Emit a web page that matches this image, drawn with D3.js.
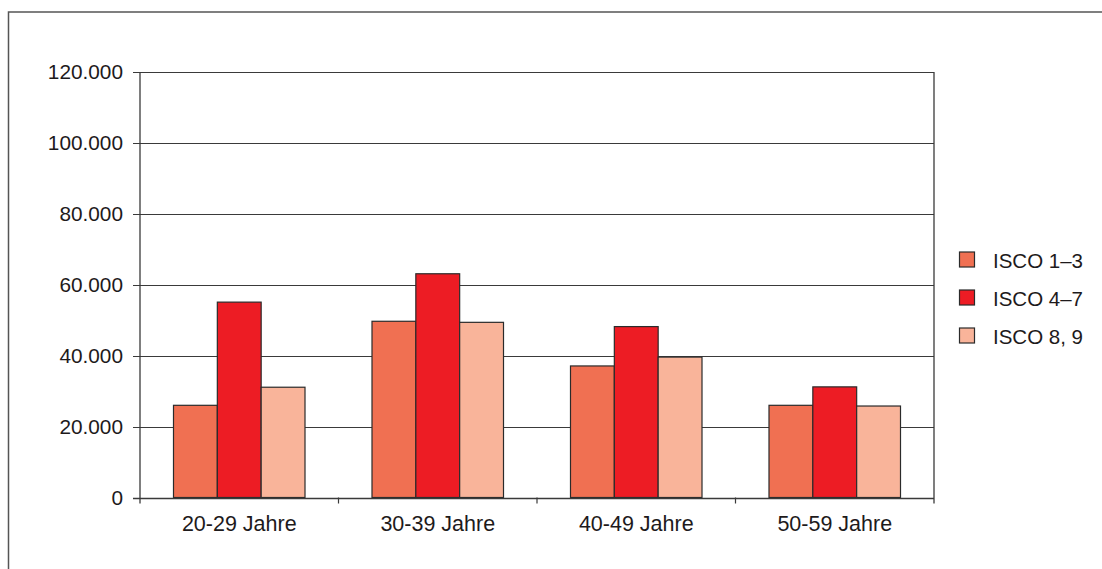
<!DOCTYPE html>
<html>
<head>
<meta charset="utf-8">
<script src="https://cdn.jsdelivr.net/npm/d3@7"></script>
<style>
  html, body { margin: 0; padding: 0; background: #fff; }
  svg { display: block; }
  text { font-family: "Liberation Sans", Arial, Helvetica, sans-serif; fill: #1e1a1b; }
</style>
</head>
<body>
<svg id="chart" width="1102" height="569"></svg>
<script>
const categories = ["20-29 Jahre", "30-39 Jahre", "40-49 Jahre", "50-59 Jahre"];
const seriesNames = ["ISCO 1–3", "ISCO 4–7", "ISCO 8, 9"];
const isco13 = [26000, 49700, 37100, 26000];
const isco47 = [55100, 63100, 48200, 31200];
const isco89 = [31100, 49400, 39600, 25800];
const yTicks = [0, 20000, 40000, 60000, 80000, 100000, 120000];
const colors = ["#f07052", "#ed1c24", "#f9b49a"];

(function () {
const seriesValues = [isco13, isco47, isco89];
const svg = d3.select("#chart");

// outer frame (extends beyond the visible area on right/bottom)
svg.append("rect")
  .attr("x", 8.5).attr("y", 12)
  .attr("width", 1200).attr("height", 700)
  .attr("fill", "none").attr("stroke", "#555").attr("stroke-width", 1.5);

const pLeft = 140, pRight = 934, pTop = 72, pBottom = 497.5;

const x0 = d3.scaleBand().domain(categories).range([pLeft, pRight])
  .paddingInner(0.3375).paddingOuter(0.3375 / 2);
const x1 = d3.scaleBand().domain(seriesNames).range([0, x0.bandwidth()]);
const y = d3.scaleLinear().domain([0, 120000]).range([pBottom, pTop]);

const fmt = v => d3.format(",")(v).replace(/,/g, ".");

// gridlines + y tick marks
svg.append("g").selectAll("line").data(yTicks).join("line")
  .attr("x1", pLeft - 7).attr("x2", pRight)
  .attr("y1", d => Math.round(y(d)) + 0.5).attr("y2", d => Math.round(y(d)) + 0.5)
  .attr("stroke", "#3a3a3a").attr("stroke-width", 1.2);

// y labels
svg.append("g").selectAll("text").data(yTicks).join("text")
  .attr("x", 123).attr("y", d => y(d))
  .attr("dy", "0.36em")
  .attr("text-anchor", "end")
  .style("font-size", "20.8px")
  .text(fmt);

// bars
const groups = svg.append("g").selectAll("g").data(categories).join("g")
  .attr("transform", d => `translate(${x0(d)},0)`);
groups.selectAll("rect")
  .data((c, i) => seriesNames.map((s, j) => ({ s, j, v: seriesValues[j][i] })))
  .join("rect")
  .attr("x", d => x1(d.s))
  .attr("width", x1.bandwidth())
  .attr("y", d => y(d.v))
  .attr("height", d => y(0) - y(d.v))
  .attr("fill", d => colors[d.j])
  .attr("stroke", "#2b2b2b").attr("stroke-width", 1.2);

// axes lines
svg.append("line").attr("x1", pLeft).attr("x2", pLeft).attr("y1", pTop).attr("y2", pBottom + 6)
  .attr("stroke", "#3a3a3a").attr("stroke-width", 1.3);
svg.append("line").attr("x1", pRight).attr("x2", pRight).attr("y1", pTop).attr("y2", pBottom + 6)
  .attr("stroke", "#3a3a3a").attr("stroke-width", 1.3);
svg.append("line").attr("x1", pLeft - 7).attr("x2", pRight).attr("y1", Math.round(y(0)) + 0.5).attr("y2", Math.round(y(0)) + 0.5)
  .attr("stroke", "#3a3a3a").attr("stroke-width", 1.3);

// category ticks (between categories)
const step = x0.step();
const catBounds = categories.slice(1).map(c => x0(c) - x0.paddingInner() * step / 2);
svg.append("g").selectAll("line").data(catBounds).join("line")
  .attr("x1", d => d).attr("x2", d => d)
  .attr("y1", pBottom).attr("y2", pBottom + 6)
  .attr("stroke", "#3a3a3a").attr("stroke-width", 1.2);

// category labels
svg.append("g").selectAll("text").data(categories).join("text")
  .attr("x", d => x0(d) + x0.bandwidth() / 2)
  .attr("y", 531)
  .attr("text-anchor", "middle")
  .style("font-size", "21.5px")
  .text(d => d);

// legend
const legend = svg.append("g").selectAll("g").data(seriesNames).join("g")
  .attr("transform", (d, i) => `translate(959.5, ${252 + i * 38})`);
legend.append("rect")
  .attr("width", 15).attr("height", 15)
  .attr("fill", (d, i) => colors[i])
  .attr("stroke", "#2b2b2b").attr("stroke-width", 1.2);
legend.append("text")
  .attr("x", 33.5).attr("y", 8.5).attr("dy", "0.36em")
  .style("font-size", "20.5px")
  .text(d => d);
})();
</script>
</body>
</html>
